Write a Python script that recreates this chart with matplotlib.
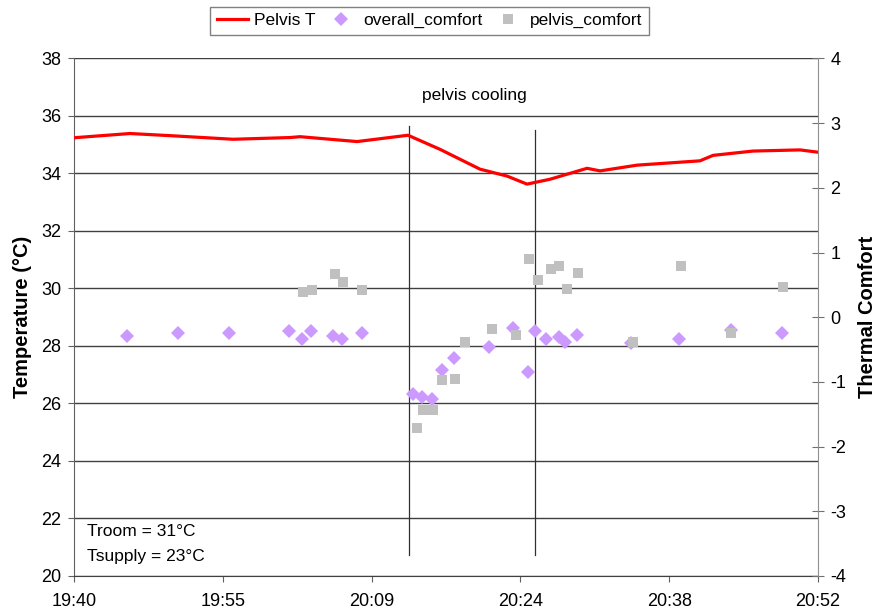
import matplotlib
matplotlib.use("Agg")
import matplotlib.pyplot as plt

plt.rcParams['font.family'] = ['Liberation Sans', 'DejaVu Sans']
plt.rcParams['axes.unicode_minus'] = False

# minutes after 19:40
pelvis_min = [0, 0.26, 5.42, 9.58, 15.39, 20.90, 21.87, 27.39, 32.32, 35.42,
              39.29, 41.90, 43.84, 46.07, 49.65, 50.91, 54.49, 60.58, 61.84,
              65.71, 70.26, 72.0]
pelvis_T = [35.24, 35.25, 35.39, 35.31, 35.19, 35.25, 35.28, 35.11, 35.33, 34.84,
            34.15, 33.91, 33.63, 33.80, 34.18, 34.09, 34.29, 34.44, 34.63,
            34.78, 34.82, 34.74]

overall_min = [5.10, 10.09, 15.00, 20.78, 22.07, 22.91, 25.09, 25.97, 27.87,
               32.84, 33.65, 34.62, 35.58, 36.73, 40.18, 42.51, 43.97, 44.58,
               45.72, 46.91, 47.52, 48.65, 53.90, 58.55, 63.58, 68.49]
overall_comfort = [-0.29, -0.24, -0.24, -0.21, -0.33, -0.21, -0.29, -0.33, -0.24,
                   -1.18, -1.24, -1.27, -0.81, -0.63, -0.46, -0.16, -0.85, -0.21,
                   -0.33, -0.30, -0.39, -0.28, -0.40, -0.33, -0.20, -0.24]

pelvis_c_min = [22.13, 23.06, 25.26, 26.00, 27.90, 33.17, 33.80, 34.77, 35.58,
                36.87, 37.86, 40.48, 42.78, 44.06, 44.88, 46.13, 46.97, 47.74,
                48.80, 54.05, 58.74, 63.58, 68.64]
pelvis_comfort = [0.39, 0.42, 0.67, 0.55, 0.42, -1.72, -1.43, -1.43, -0.97,
                  -0.95, -0.38, -0.18, -0.27, 0.90, 0.57, 0.75, 0.79, 0.43,
                  0.69, -0.38, 0.79, -0.24, 0.46]

xticks = [0, 14.4, 28.8, 43.2, 57.6, 72]
xlabels = ['19:40', '19:55', '20:09', '20:24', '20:38', '20:52']
events = [32.42, 44.61]

fig = plt.figure(figsize=(8.81, 6.13), dpi=100)
ax = fig.add_axes([0.084, 0.0604, 0.8445, 0.8442])
ax2 = ax.twinx()

ax.set_xlim(0, 72)
ax.set_ylim(20, 38)
ax2.set_ylim(-4, 4)
ax.set_yticks(range(20, 39, 2))
ax2.set_yticks(range(-4, 5))
ax.set_xticks(xticks)
ax.set_xticklabels(xlabels)

for yv in range(20, 39, 2):
    ax.axhline(yv, color='#404040', lw=1, zorder=1)

ax.axvline(events[0], ymin=0.04, ymax=0.87, color='#303030', lw=0.9, zorder=1)
ax.axvline(events[1], ymin=0.04, ymax=0.861, color='#303030', lw=0.9, zorder=1)

l1, = ax.plot(pelvis_min, pelvis_T, color='#FF0000', lw=2.3, zorder=3, label='Pelvis T')
s1, = ax2.plot(overall_min, overall_comfort, 'D', color='#CC99FF', ms=7, mew=0,
               label='overall_comfort')
s2, = ax2.plot(pelvis_c_min, pelvis_comfort, 's', color='#C0C0C0', ms=7.5, mew=0,
               label='pelvis_comfort')
ax2.set_zorder(ax.get_zorder() + 1)
ax2.patch.set_visible(False)

ax.spines['top'].set_visible(False)
ax2.spines['top'].set_visible(False)
ax.spines['right'].set_visible(False)
ax.spines['left'].set_color('#606060')
ax.spines['bottom'].set_color('#404040')
ax2.spines['right'].set_color('#909090')
ax2.spines['left'].set_visible(False)
ax2.spines['bottom'].set_visible(False)

ax.tick_params(axis='y', labelsize=13, length=4, color='#606060', pad=5)
ax.tick_params(axis='x', labelsize=13, length=4, color='#606060', pad=8)
ax2.tick_params(axis='y', labelsize=13, length=8, direction='inout', color='#707070', pad=5)

ax.set_ylabel('Temperature (°C)', fontsize=14.5, fontweight='bold')
ax.yaxis.set_label_coords(-0.056, 0.5)
ax2.set_ylabel('Thermal Comfort', fontsize=14.5, fontweight='bold', rotation=90)
ax2.yaxis.set_label_coords(1.054, 0.5)

ax.text(38.7, 36.7, 'pelvis cooling', fontsize=12.5, ha='center', va='center')
ax.text(1.3, 21.54, 'Troom = 31°C', fontsize=12.5, ha='left', va='center')
ax.text(1.3, 20.67, 'Tsupply = 23°C', fontsize=12.5, ha='left', va='center')

leg = fig.legend(handles=[l1, s1, s2], loc='center', bbox_to_anchor=(0.4875, 0.966),
                 ncol=3, fontsize=12.5, frameon=True, fancybox=False, handlelength=1.8,
                 handletextpad=0.35, columnspacing=0.6, borderpad=0.35)
leg.get_frame().set_edgecolor('#606060')
leg.get_frame().set_linewidth(1)

fig.savefig('out.png', dpi=100)
